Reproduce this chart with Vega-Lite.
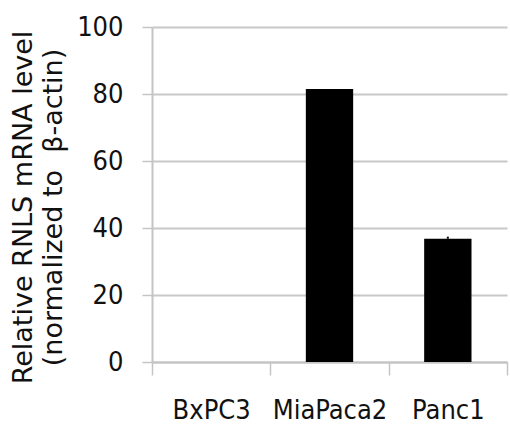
{
  "$schema": "https://vega.github.io/schema/vega-lite/v6.json",
  "width": 355,
  "height": 335,
  "autosize": "none",
  "padding": {"left": 152, "top": 27, "right": 3, "bottom": 71},
  "background": "white",
  "config": {"view": {"stroke": null}},
  "data": {"values": [
    {"line": "BxPC3", "value": 0, "err": 0},
    {"line": "MiaPaca2", "value": 81.5, "err": 0},
    {"line": "Panc1", "value": 36.8, "err": 0.6}
  ]},
  "encoding": {
    "x": {
      "field": "line", "type": "nominal", "sort": null,
      "scale": {"paddingInner": 0, "paddingOuter": 0},
      "axis": {
        "title": null, "labelAngle": 0, "tickBand": "extent",
        "domainColor": "#c4c4c4", "domainWidth": 2, "tickColor": "#c4c4c4", "tickWidth": 1.5, "tickSize": 13,
        "labelFont": "DejaVu Sans Condensed, sans-serif", "labelFontSize": 27, "labelColor": "#111",
        "labelPadding": 22, "grid": false
      }
    }
  },
  "layer": [
    {
      "mark": {"type": "bar", "color": "#000", "width": {"band": 0.4}},
      "encoding": {
        "y": {
          "field": "value", "type": "quantitative",
          "scale": {"domain": [0, 100], "nice": false},
          "axis": {
            "values": [0, 20, 40, 60, 80, 100],
            "title": ["Relative RNLS mRNA level", "(normalized to \u00a0β-actin)"],
            "titleFont": "DejaVu Sans, sans-serif", "titleFontSize": 27, "titleFontWeight": "normal",
            "titleColor": "#111", "titleLineHeight": 30, "titleAngle": -90, "titleBaseline": "top",
            "titleX": -142, "titleY": 180, "titleAlign": "center",
            "labelFont": "DejaVu Sans Condensed, sans-serif", "labelFontSize": 27, "labelColor": "#111",
            "labelPadding": 19,
            "domainColor": "#c4c4c4", "domainWidth": 2, "tickColor": "#c4c4c4", "tickWidth": 1.5, "tickSize": 10,
            "grid": true, "gridColor": "#c8c8c8", "gridWidth": 2
          }
        }
      }
    },
    {
      "mark": {"type": "rule", "color": "#000", "strokeWidth": 2},
      "encoding": {
        "y": {"field": "value", "type": "quantitative"},
        "y2": {"field": "errTop"}
      },
      "transform": [{"filter": "datum.err > 0"}, {"calculate": "datum.value + datum.err", "as": "errTop"}]
    }
  ]
}
